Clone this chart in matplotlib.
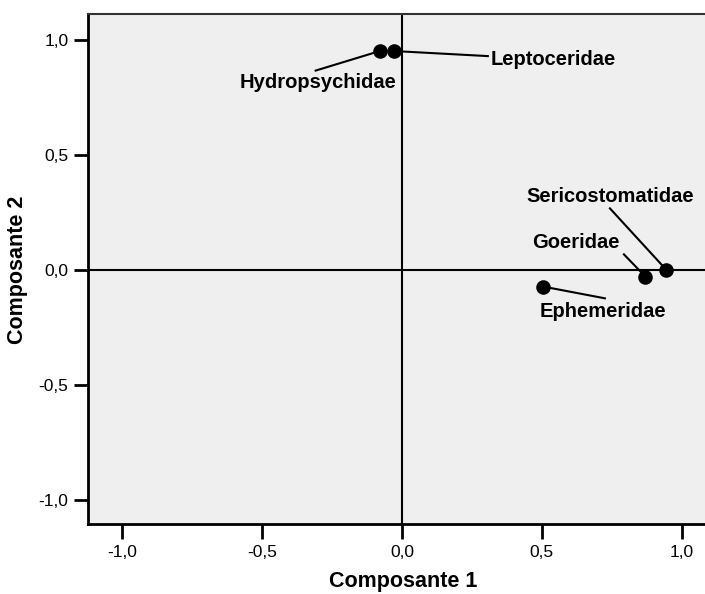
import matplotlib
matplotlib.use("Agg")
import matplotlib.pyplot as plt

plt.rcParams['font.family'] = ['Liberation Sans', 'DejaVu Sans']

# component loadings
families = ['Hydropsychidae', 'Leptoceridae', 'Sericostomatidae', 'Goeridae', 'Ephemeridae']
comp1 = [-0.079, -0.028, 0.945, 0.870, 0.505]
comp2 = [0.952, 0.952, 0.000, -0.029, -0.072]

# label anchors and alignment
label_x = [-0.298, 0.318, 0.743, 0.621, 0.718]
label_y = [0.817, 0.917, 0.319, 0.119, -0.181]
label_ha = ['center', 'left', 'center', 'center', 'center']
# where each leader line leaves the label
line_x = [-0.308, 0.307, 0.743, 0.793, 0.725]
line_y = [0.867, 0.930, 0.268, 0.068, -0.123]

ticks = [-1.0, -0.5, 0.0, 0.5, 1.0]
tick_labels = ['-1,0', '-0,5', '0,0', '0,5', '1,0']

fig = plt.figure(figsize=(7.05, 5.94), dpi=100)
ax = fig.add_axes([88 / 705, 70 / 594, 620.5 / 705, 510 / 594])
ax.set_facecolor('#efefef')
ax.set_xlim(-1.121, 1.095)
ax.set_ylim(-1.104, 1.113)

ax.axhline(0, color='black', lw=1.5, zorder=1)
ax.axvline(0, color='black', lw=1.5, zorder=1)

for i in range(len(families)):
    ax.plot([comp1[i], line_x[i]], [comp2[i], line_y[i]], color='black', lw=1.5, zorder=2)
    ax.text(label_x[i], label_y[i], families[i], ha=label_ha[i], va='center',
            fontsize=14.5, fontweight='bold', zorder=4)

ax.scatter(comp1, comp2, s=110, color='black', zorder=3, linewidths=0)

ax.set_xticks(ticks)
ax.set_xticklabels(tick_labels)
ax.set_yticks(ticks)
ax.set_yticklabels(tick_labels)
ax.tick_params(axis='both', direction='out', length=10, width=2, labelsize=12.5, pad=4)
ax.tick_params(axis='x', length=11)

for side in ['left', 'bottom']:
    ax.spines[side].set_linewidth(2)
ax.spines['top'].set_linewidth(1.5)
ax.spines['top'].set_color('#333333')
ax.spines['right'].set_visible(False)

ax.set_xlabel('Composante 1', fontsize=15.5, fontweight='bold', va='center')
ax.set_ylabel('Composante 2', fontsize=15.5, fontweight='bold', va='center')
ax.xaxis.set_label_coords(0.5 + 5 / 620.5, -58 / 510)
ax.yaxis.set_label_coords(-70 / 620.5, 0.5 - 1 / 510)

fig.savefig('out.png', dpi=100)
